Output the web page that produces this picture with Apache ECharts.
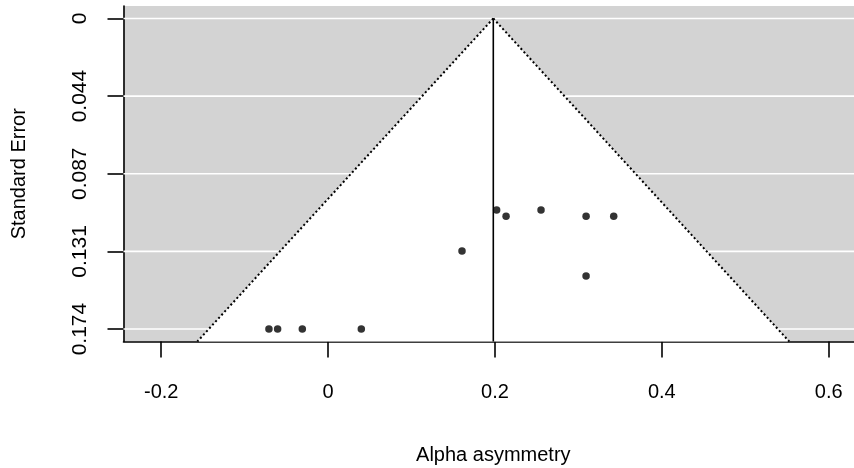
<!DOCTYPE html>
<html>
<head>
<meta charset="utf-8">
<script src="https://cdn.jsdelivr.net/npm/echarts@6/dist/echarts.min.js"></script>
<style>
  html, body { margin: 0; padding: 0; background: #ffffff; }
  #chart { width: 854px; height: 468px; }
</style>
</head>
<body>
<div id="chart"></div>
<script>
// Funnel plot: alpha asymmetry estimates against their standard errors
const estimates = [-0.0709, -0.0605, -0.0309, 0.0398, 0.1605, 0.2020, 0.2133, 0.2552, 0.3092, 0.3423, 0.3092];
const standardErrors = [0.174, 0.174, 0.174, 0.174, 0.1303, 0.1073, 0.1108, 0.1073, 0.1108, 0.1108, 0.1443];
const pooledEstimate = 0.198;

const seTickValues = [0, 0.0435, 0.087, 0.1305, 0.174];
const seTickLabels = ['0', '0.044', '0.087', '0.131', '0.174'];
const xTickValues = [-0.2, 0, 0.2, 0.4, 0.6];
const xTickLabels = ['-0.2', '0', '0.2', '0.4', '0.6'];

// Axis extents (4% padding around the data ranges)
const seMax = 0.174;
const seLo = -0.04 * seMax;
const seHi = seMax * 1.04;
const xHalf = 0.4432;
const xLo = pooledEstimate - xHalf;
const xHi = pooledEstimate + xHalf;

// 95% pseudo-confidence region, from the apex down to the bottom of the plot
const z = 1.96;
const funnelLeft = [[pooledEstimate, 0], [pooledEstimate - z * seHi, seHi]];
const funnelRight = [[pooledEstimate, 0], [pooledEstimate + z * seHi, seHi]];
const funnelTriangle = [funnelLeft[0], funnelLeft[1], funnelRight[1]];
const refLine = [[pooledEstimate, 0], [pooledEstimate, seHi]];

const FONT = 'Liberation Sans, Arial, sans-serif';
const chart = echarts.init(document.getElementById('chart'), null, { renderer: 'canvas' });

const pickLabel = (values, labels) => (v) =>
  labels[values.findIndex(t => Math.abs(t - v) < 1e-9)];

chart.setOption({
  animation: false,
  backgroundColor: '#ffffff',
  grid: {
    // the plotting region runs a little past the right edge of the canvas
    left: 123.5, top: 6, width: 739.6, bottom: 126.5,
    containLabel: false,
    outerBoundsMode: 'none',
    show: true, backgroundColor: '#d3d3d3', borderWidth: 0
  },
  xAxis: {
    type: 'value',
    min: xLo, max: xHi,
    name: 'Alpha asymmetry',
    nameLocation: 'middle',
    nameGap: 104,
    nameTextStyle: { fontFamily: FONT, fontSize: 20, color: '#000' },
    axisLine: { show: true, onZero: false, lineStyle: { color: '#000', width: 1.6 } },
    axisTick: { show: true, length: 16, customValues: xTickValues, lineStyle: { color: '#000', width: 1.6 } },
    axisLabel: {
      customValues: xTickValues,
      formatter: pickLabel(xTickValues, xTickLabels),
      fontFamily: FONT, fontSize: 20, color: '#000', margin: 41
    },
    splitLine: { show: false }
  },
  yAxis: {
    type: 'value',
    inverse: true,
    min: seLo, max: seHi,
    name: 'Standard Error',
    nameLocation: 'middle',
    nameGap: 94,
    nameRotate: 90,
    nameTextStyle: { fontFamily: FONT, fontSize: 20, color: '#000' },
    axisLine: { show: true, onZero: false, lineStyle: { color: '#000', width: 1.6 } },
    axisTick: { show: true, length: 16, customValues: seTickValues, lineStyle: { color: '#000', width: 1.6 } },
    axisLabel: {
      customValues: seTickValues,
      rotate: 90,
      formatter: pickLabel(seTickValues, seTickLabels),
      fontFamily: FONT, fontSize: 21, color: '#000', margin: 33
    },
    splitLine: { show: false }
  },
  series: [
    {
      // horizontal white reference lines at the standard-error ticks
      type: 'custom',
      z: 1,
      silent: true,
      data: seTickValues,
      renderItem: (params, api) => {
        const v = api.value(0);
        const a = api.coord([xLo, v]);
        const b = api.coord([xHi, v]);
        return {
          type: 'line',
          shape: { x1: a[0], y1: a[1], x2: b[0], y2: b[1] },
          style: { stroke: '#ffffff', lineWidth: 1.6 }
        };
      }
    },
    {
      // white funnel region
      type: 'custom',
      z: 2,
      silent: true,
      data: [0],
      renderItem: (params, api) => ({
        type: 'polygon',
        shape: { points: funnelTriangle.map(p => api.coord(p)) },
        style: { fill: '#ffffff' }
      })
    },
    {
      type: 'line', z: 3, silent: true, symbol: 'none', data: funnelLeft,
      lineStyle: { color: '#000', width: 2, type: [2, 2.5] }
    },
    {
      type: 'line', z: 3, silent: true, symbol: 'none', data: funnelRight,
      lineStyle: { color: '#000', width: 2, type: [2, 2.5] }
    },
    {
      type: 'line', z: 3, silent: true, symbol: 'none', data: refLine,
      lineStyle: { color: '#000', width: 1.6, type: 'solid' }
    },
    {
      type: 'scatter',
      z: 4,
      symbol: 'circle',
      symbolSize: 7.5,
      itemStyle: { color: '#000' },
      data: estimates.map((x, i) => [x, standardErrors[i]])
    }
  ]
});
</script>
</body>
</html>
